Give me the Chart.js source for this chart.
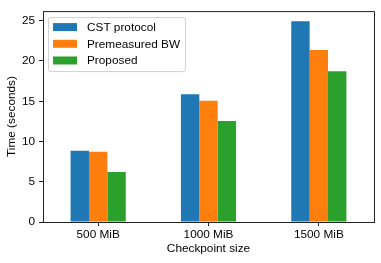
<!DOCTYPE html>
<html>
<head>
<meta charset="utf-8">
<script src="https://cdn.jsdelivr.net/npm/chart.js@4.4.0/dist/chart.umd.min.js"></script>
<style>
  html, body { margin: 0; padding: 0; background: #fff; }
  #wrap { width: 381px; height: 263px; }
</style>
</head>
<body>
<div id="wrap"><canvas id="mychart" width="381" height="263"></canvas></div>
<script>
// data
var sizes = ['500 MiB', '1000 MiB', '1500 MiB']
var cst = [8.85, 15.87, 24.93]
var premeasured = [8.73, 15.07, 21.35]
var proposed = [6.21, 12.55, 18.72]
var yTicks = [0, 5, 10, 15, 20, 25]

var fontFamily = "Arial, 'Liberation Sans', sans-serif"
var fontSize = 11.8

// matplotlib-ish legend inside the plot plus the top/right spines
var boxPlugin = {
    id: 'boxPlugin',
    afterDraw: function (chart) {
        var ctx = chart.ctx
        var a = chart.chartArea
        ctx.save()
        ctx.strokeStyle = '#222'
        ctx.lineWidth = 1
        ctx.beginPath()
        ctx.moveTo(a.left, a.top + 0.5)
        ctx.lineTo(a.right + 0.5, a.top + 0.5)
        ctx.lineTo(a.right + 0.5, a.bottom)
        ctx.stroke()

        // legend frame
        var x = a.left + 5, y = a.top + 6, w = 137, h = 54
        ctx.fillStyle = 'rgba(255,255,255,0.8)'
        ctx.strokeStyle = '#d0d0d0'
        ctx.beginPath()
        ctx.roundRect(x + 0.5, y + 0.5, w, h, 2)
        ctx.fill()
        ctx.stroke()

        ctx.font = fontSize + 'px ' + fontFamily
        ctx.textBaseline = 'middle'
        chart.data.datasets.forEach(function (ds, i) {
            var cy = y + 10 + i * 16.7
            ctx.fillStyle = ds.backgroundColor
            ctx.fillRect(x + 5, cy - 4, 24, 8)
            ctx.fillStyle = '#000'
            ctx.fillText(ds.label, x + 39, cy + 0.5)
        })
        ctx.restore()
    }
}

var chart = new Chart(document.getElementById('mychart').getContext('2d'), {
    type: 'bar',
    data: {
        labels: sizes,
        datasets: [
            { label: 'CST protocol', data: cst, backgroundColor: '#1f77b4' },
            { label: 'Premeasured BW', data: premeasured, backgroundColor: '#ff7f0e' },
            { label: 'Proposed', data: proposed, backgroundColor: '#2ca02c' }
        ]
    },
    options: {
        responsive: false,
        animation: false,
        devicePixelRatio: 1,
        layout: { padding: { top: 7, right: 7, left: 0, bottom: 0 } },
        datasets: { bar: { barPercentage: 1, categoryPercentage: 0.5 } },
        plugins: { legend: { display: false }, tooltip: { enabled: false } },
        scales: {
            x: {
                offset: true,
                grid: { offset: false, drawOnChartArea: false, drawTicks: true, tickLength: 4, color: '#222' },
                border: { display: true, color: '#222', width: 1 },
                ticks: { color: '#000', font: { size: fontSize, family: fontFamily }, padding: 2, maxRotation: 0 },
                title: { display: true, text: 'Checkpoint size', color: '#000', font: { size: fontSize, family: fontFamily }, padding: { top: 0, bottom: 7 } },
                afterFit: function (scale) { scale.height = 41 }
            },
            y: {
                min: 0,
                max: 26.2,
                afterBuildTicks: function (scale) {
                    scale.ticks = yTicks.map(function (v) { return { value: v } })
                },
                grid: { drawOnChartArea: false, drawTicks: true, tickLength: 4, color: '#222' },
                border: { display: true, color: '#222', width: 1 },
                ticks: { color: '#000', font: { size: fontSize, family: fontFamily }, padding: 4 },
                title: { display: true, text: 'Time (seconds)', color: '#000', font: { size: fontSize, family: fontFamily }, padding: { top: 5, bottom: 0 } },
                afterFit: function (scale) { scale.width = 43 }
            }
        }
    },
    plugins: [boxPlugin]
})
</script>
</body>
</html>
